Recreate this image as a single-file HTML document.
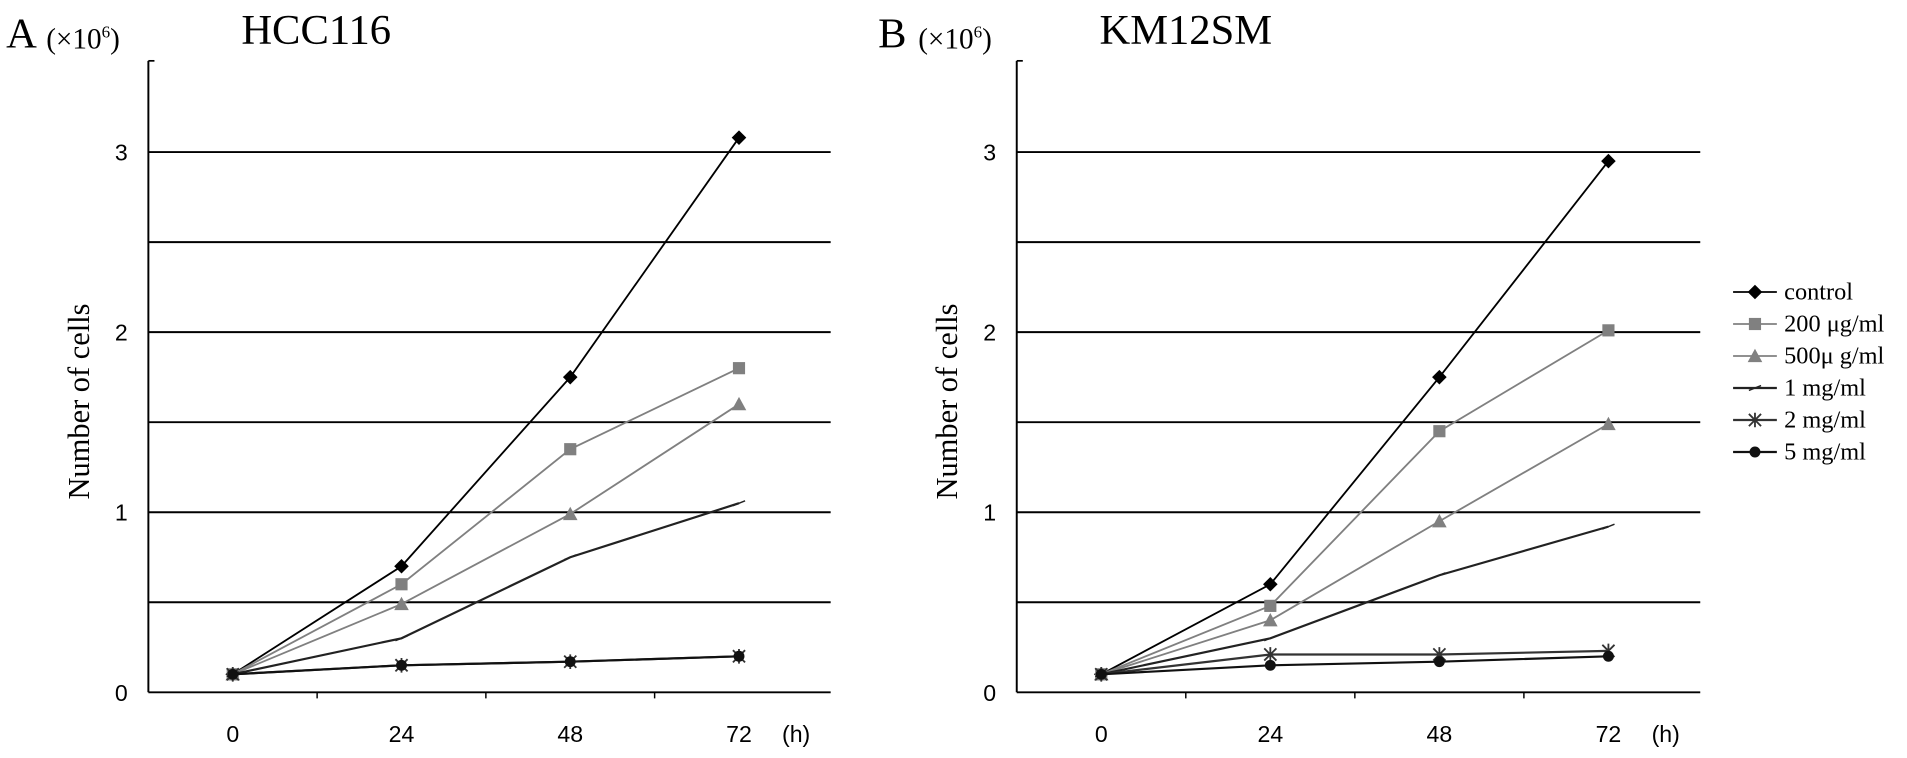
<!DOCTYPE html>
<html><head><meta charset="utf-8"><style>
html,body{margin:0;padding:0;background:#fff;}
svg{display:block;}
text{font-family:"Liberation Serif",serif;}
.tick{font-family:"Liberation Sans",sans-serif;font-size:19px;}
</style></head><body>
<svg id="chart" width="1907" height="758" viewBox="0 0 1568 623" preserveAspectRatio="none" xmlns="http://www.w3.org/2000/svg"></svg>
<script>
const categories = ["0","24","48","72"];
const yTicks = [0,1,2,3];
const gridValues = [0.5,1,1.5,2,2.5,3];
const seriesNames = ["control","200 μg/ml","500μ g/ml","1 mg/ml","2 mg/ml","5 mg/ml"];
const hccControl = [0.1,0.7,1.75,3.08];
const hcc200 = [0.1,0.6,1.35,1.8];
const hcc500 = [0.1,0.49,0.99,1.6];
const hcc1mg = [0.1,0.3,0.75,1.05];
const hcc2mg = [0.1,0.15,0.17,0.2];
const hcc5mg = [0.1,0.15,0.17,0.2];
const kmControl = [0.1,0.6,1.75,2.95];
const km200 = [0.1,0.48,1.45,2.01];
const km500 = [0.1,0.4,0.95,1.49];
const km1mg = [0.1,0.3,0.65,0.92];
const km2mg = [0.1,0.21,0.21,0.23];
const km5mg = [0.1,0.15,0.17,0.2];

const NS="http://www.w3.org/2000/svg";
const svg=document.getElementById('chart');
function mk(tag,attrs,parent){const e=document.createElementNS(NS,tag);for(const k in attrs)e.setAttribute(k,attrs[k]);(parent||svg).appendChild(e);return e;}
const styles=[
 {c:"#000",m:"diamond",w:1.5},
 {c:"#808080",m:"square",w:1.5},
 {c:"#808080",m:"triangle",w:1.5},
 {c:"#222",m:"dash",w:1.8},
 {c:"#333",m:"star",w:1.8},
 {c:"#111",m:"circle",w:1.8}];
function marker(g,type,x,y,c){
 let e;
 if(type==="diamond")e=mk('polygon',{points:`${x},${y-6} ${x+6},${y} ${x},${y+6} ${x-6},${y}`,fill:c},g);
 else if(type==="square")e=mk('rect',{x:x-5,y:y-5,width:10,height:10,fill:c},g);
 else if(type==="triangle")e=mk('polygon',{points:`${x},${y-6} ${x+6},${y+5} ${x-6},${y+5}`,fill:c},g);
 else if(type==="circle")e=mk('circle',{cx:x,cy:y,r:4.5,fill:c},g);
 else if(type==="star"){e=mk('path',{d:`M${x-5},${y-5}L${x+5},${y+5}M${x+5},${y-5}L${x-5},${y+5}M${x},${y-6}L${x},${y+6}`,stroke:c,'stroke-width':1.5},g);}
 else e=mk('path',{d:`M${x-5},${y+2}L${x+5},${y-2}`,stroke:c,'stroke-width':1.2},g);
 
 
}
function panel(opt,series){
 const g=mk('g',{});
 
 
 const y0=569, unit=148, left=opt.left, right=opt.right;
 const yS=v=>y0-v*unit;
 const step=(right-left-6)/4;
 const xS=i=>left+step*(i+0.5);
 for(const v of gridValues){const l=mk('line',{x1:left,x2:right,y1:yS(v),y2:yS(v),stroke:"#000",'stroke-width':1.6},g);
  }
 const ya=mk('line',{x1:left,x2:left,y1:50,y2:y0,stroke:"#000",'stroke-width':1.6},g);
 
 mk('line',{x1:left,x2:left+5,y1:50,y2:50,stroke:"#000",'stroke-width':1.4},g);
 const xa=mk('line',{x1:left,x2:right,y1:y0,y2:y0,stroke:"#000",'stroke-width':1.6},g);
 
 for(let i=1;i<4;i++)mk('line',{x1:left+step*i,x2:left+step*i,y1:y0,y2:y0+5,stroke:"#000",'stroke-width':1.2},g);
 for(const v of yTicks){const t=mk('text',{x:left-17,y:yS(v)+7,'text-anchor':'end',class:'tick'},g);t.textContent=v;
  }
 categories.forEach((c,i)=>{const t=mk('text',{x:xS(i),y:610,'text-anchor':'middle',class:'tick'},g);t.textContent=c;
  });
 const h=mk('text',{x:right-40,y:610,class:'tick'},g);h.textContent="(h)";
 
 const yt=mk('text',{x:0,y:0,'font-size':25,'text-anchor':'middle',transform:`translate(${left-49},330) rotate(-90)`},g);yt.textContent="Number of cells";
 
 const L=mk('text',{x:opt.lx,y:39,'font-size':35},g);L.textContent=opt.letter;
 
 const u=mk('text',{x:opt.lx+33,y:40,'font-size':24},g);u.innerHTML='(×10<tspan dy="-9" font-size="14">6</tspan><tspan dy="9">)</tspan>';
 
 const ti=mk('text',{x:opt.tx,y:36,'font-size':35,'text-anchor':'middle'},g);ti.textContent=opt.title;
 
 series.forEach((vals,s)=>{const st=styles[s];
  const p=mk('polyline',{points:vals.map((v,i)=>xS(i)+','+yS(v)).join(' '),fill:'none',stroke:st.c,'stroke-width':st.w},g);
  
  vals.forEach((v,i)=>marker(g,st.m,xS(i),yS(v),st.c));});
}
panel({id:'hcc116',left:122,right:683,letter:'A',lx:5,title:'HCC116',tx:260},[hccControl,hcc200,hcc500,hcc1mg,hcc2mg,hcc5mg]);
panel({id:'km12sm',left:836,right:1398,letter:'B',lx:722,title:'KM12SM',tx:975},[kmControl,km200,km500,km1mg,km2mg,km5mg]);
const lg=mk('g',{});


seriesNames.forEach((n,i)=>{const y=240+i*26.3,st=styles[i];
 const e=mk('g',{},lg);
 
 
 mk('line',{x1:1425,x2:1461,y1:y,y2:y,stroke:st.c,'stroke-width':st.w},e);
 marker(e,st.m,1443,y,st.c);
 const t=mk('text',{x:1467,y:y+6,'font-size':20},e);t.textContent=n;});
</script>
</body></html>
